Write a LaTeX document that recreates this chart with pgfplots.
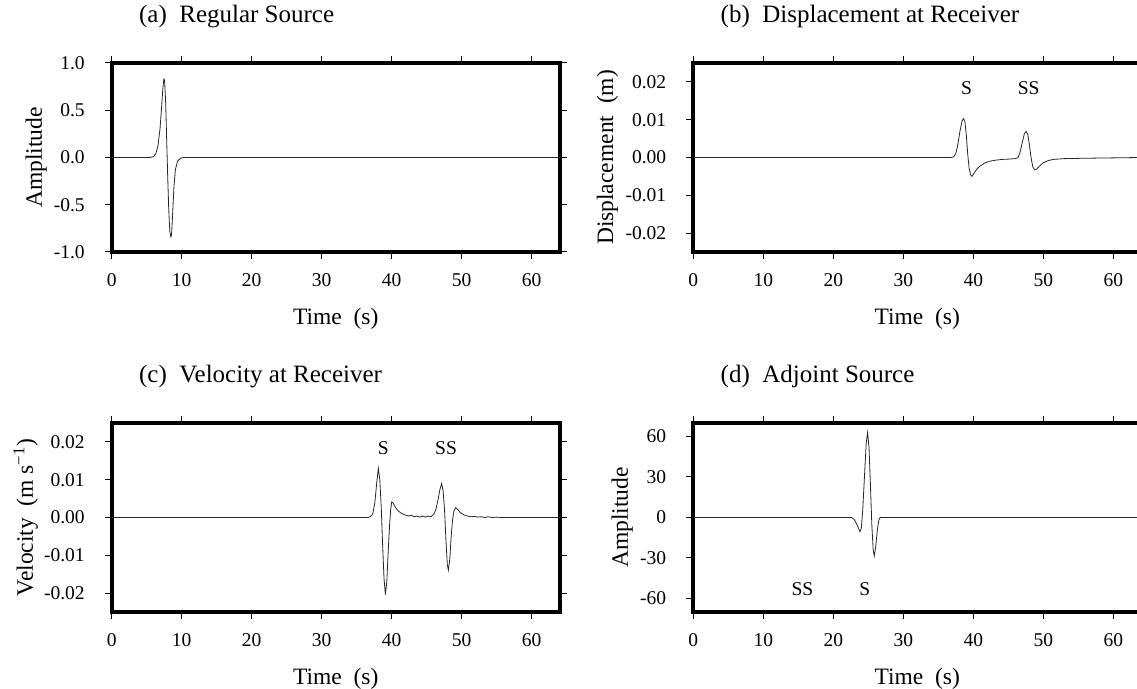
\documentclass[border=0pt]{standalone}
\usepackage{fontspec}
\setmainfont{Liberation Serif}
\usepackage{pgfplots}
\pgfplotsset{compat=1.18}

\newcommand\ticksz{\fontsize{9.75}{11}\selectfont}
\newcommand\labsz{\fontsize{11.75}{13}\selectfont}
\newcommand\titsz{\fontsize{12.5}{14}\selectfont}

\pgfplotsset{
  trace/.style={
    scale only axis, width=224pt, height=94.5pt,
    xmin=0, xmax=64,
    axis line style={line width=2pt},
    tick align=outside, major tick length=3.5pt,
    every tick/.style={black, line width=0.5pt},
    xtick={0,10,20,30,40,50,60},
    xticklabels={0,10,20,30,40,50,60},
    scaled ticks=false,
    tick label style={font=\ticksz},
    yticklabel style={xshift=-6.5pt},
    xticklabel style={anchor=base, yshift=-14pt},
    xlabel={Time~~(s)},
    label style={font=\labsz},
    xlabel style={at={(axis description cs:0.5,0)}, anchor=base, yshift=-36.5pt, inner sep=0pt},
    title style={at={(axis description cs:0,1)}, anchor=base west, xshift=13.5pt, yshift=14pt, font=\titsz, inner sep=0pt},
    no markers,
    cycle list={{black!85, line width=0.5pt}},
  },
  ylab/.style={ylabel style={at={(axis description cs:#1,0.5)}, anchor=base, inner sep=0pt}},
}

\begin{document}
\begin{tikzpicture}
\useasboundingbox (0,0) rectangle (568.5pt,344.5pt);
\clip (0,0) rectangle (568.5pt,344.5pt);

% (a) source time function
\begin{axis}[trace, at={(55.85pt,218.5pt)}, anchor=south west,
  ymin=-1, ymax=1,
  ytick={-1,-0.5,0,0.5,1}, yticklabels={-1.0,-0.5,0.0,0.5,1.0},
  title={(a)~~Regular Source}, ylabel={Amplitude}, ylab=-0.1556]
\addplot coordinates {
 (0,0) (5.5,0) (6.0,0.01) (6.3,0.04) (6.6,0.12) (6.9,0.30) (7.1,0.50)
 (7.3,0.72) (7.45,0.83) (7.55,0.82) (7.7,0.60) (7.85,0.20) (8.0,-0.20)
 (8.15,-0.55) (8.3,-0.78) (8.45,-0.84) (8.55,-0.82) (8.7,-0.60) (8.9,-0.30)
 (9.1,-0.13) (9.4,-0.04) (9.8,-0.01) (10.2,0) (64,0)
};
\end{axis}

% (b) displacement seismogram
\begin{axis}[trace, at={(346.65pt,218.5pt)}, anchor=south west,
  ymin=-0.025, ymax=0.025,
  ytick={-0.02,-0.01,0,0.01,0.02}, yticklabels={-0.02,-0.01,0.00,0.01,0.02},
  title={(b)~~Displacement at Receiver}, ylabel={Displacement~~(m)}, ylab=-0.179]
\addplot coordinates {
 (0,0) (36.8,0) (37.2,0.0002) (37.5,0.001) (37.8,0.0035) (38.1,0.007)
 (38.4,0.0097) (38.6,0.0103) (38.8,0.0095) (39.0,0.006) (39.2,0.001)
 (39.4,-0.0028) (39.6,-0.0045) (39.8,-0.0050) (40.1,-0.0042) (40.5,-0.0031)
 (41.0,-0.0022) (41.6,-0.0015) (42.3,-0.0010) (43.2,-0.0007) (44.2,-0.0005)
 (45.3,-0.0004) (46.0,-0.0003) (46.4,0.0) (46.7,0.0015) (47.0,0.004)
 (47.3,0.0063) (47.55,0.0069) (47.8,0.0060) (48.0,0.0035) (48.25,0.0)
 (48.5,-0.0025) (48.8,-0.0033) (49.1,-0.0030) (49.5,-0.0022) (50.0,-0.0014)
 (50.7,-0.0008) (51.5,-0.0005) (53,-0.0003) (56,-0.0002) (60,-0.0001) (64,0)
};
\node[font=\ticksz] at (axis cs:39.05,0.0184) {S};
\node[font=\ticksz] at (axis cs:47.9,0.0184) {SS};
\end{axis}

% (c) velocity seismogram
\begin{axis}[trace, at={(55.85pt,38.5pt)}, anchor=south west,
  ymin=-0.025, ymax=0.025,
  ytick={-0.02,-0.01,0,0.01,0.02}, yticklabels={-0.02,-0.01,0.00,0.01,0.02},
  title={(c)~~Velocity at Receiver}, ylabel={Velocity~~(m~s\textsuperscript{−1})}, ylab=-0.1757]
\addplot coordinates {
 (0,0) (36.6,0) (37.0,0.0003) (37.3,0.001) (37.6,0.004) (37.85,0.009)
 (38.09,0.0130) (38.3,0.010) (38.5,0.003) (38.7,-0.007) (38.9,-0.016)
 (39.1,-0.0204) (39.3,-0.017) (39.5,-0.009) (39.7,-0.002) (39.85,0.002)
 (40.0,0.0041) (40.2,0.0038) (40.5,0.0028) (40.9,0.0018) (41.4,0.0011)
 (42.0,0.0006) (42.4,0.0004) (42.8,0.0006) (43.2,0.0002) (43.6,0.0004)
 (44.0,0.0001) (44.4,0.0004) (44.8,0.0001) (45.2,0.0004) (45.6,0.0002)
 (46.0,0.0008) (46.3,0.002) (46.6,0.0045) (46.9,0.0075) (47.14,0.0090)
 (47.35,0.0070) (47.55,0.002) (47.75,-0.006) (47.95,-0.0125) (48.1,-0.0139)
 (48.3,-0.011) (48.5,-0.005) (48.7,-0.0005) (48.9,0.0018) (49.15,0.0026)
 (49.4,0.0022) (49.8,0.0013) (50.3,0.0007) (50.8,0.0004) (51.3,0.0002)
 (51.8,0.0003) (52.3,0.0001) (52.8,0.0002) (53.3,0.0) (53.8,0.0002)
 (54.3,0.0) (55.0,0.0001) (55.6,0.0) (64,0)
};
\node[font=\ticksz] at (axis cs:38.8,0.0183) {S};
\node[font=\ticksz] at (axis cs:47.76,0.0183) {SS};
\end{axis}

% (d) adjoint source
\begin{axis}[trace, at={(346.65pt,38.5pt)}, anchor=south west,
  ymin=-70, ymax=70,
  ytick={-60,-30,0,30,60}, yticklabels={-60,-30,0,30,60},
  title={(d)~~Adjoint Source}, ylabel={Amplitude}, ylab=-0.1458]
\addplot coordinates {
 (0,0) (22.6,0) (23.0,-1.5) (23.4,-5.5) (23.8,-10.5) (24.0,-8) (24.2,5)
 (24.45,30) (24.7,55) (24.9,63) (25.1,52) (25.3,25) (25.5,-5) (25.7,-24)
 (25.85,-28.5) (26.05,-22) (26.3,-9) (26.5,-2) (26.7,0) (64,0)
};
\node[font=\ticksz] at (axis cs:15.6,-53) {SS};
\node[font=\ticksz] at (axis cs:24.5,-53) {S};
\end{axis}
\end{tikzpicture}
\end{document}
